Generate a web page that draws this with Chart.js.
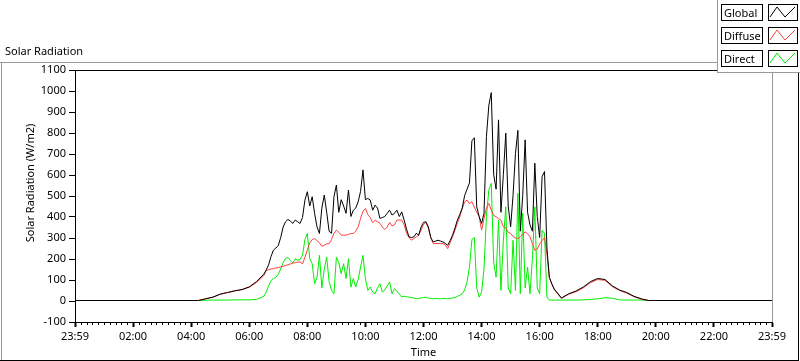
<!DOCTYPE html>
<html>
<head>
<meta charset="utf-8">
<title>Solar Radiation</title>
<script src="https://cdn.jsdelivr.net/npm/chart.js@4.4.1/dist/chart.umd.min.js"></script>
<style>
  html, body { margin: 0; padding: 0; background: #fff; }
  #wrap { width: 800px; height: 361px; }
</style>
</head>
<body>
<div id="wrap"><canvas id="solarChart" width="800" height="361"></canvas></div>
<script>
// Sample times (HH:MM), 5 minute steps through the day, coarser at dawn / dusk
const timeLabels = [
  '00:00', '04:00', '04:15', '04:30', '04:45', '05:00', '05:15', '05:30', '05:45', '06:00', '06:15', '06:30',
  '06:35', '06:40', '06:45', '06:50', '06:55',
  '07:00', '07:05', '07:10', '07:15', '07:20', '07:25', '07:30', '07:35', '07:40', '07:45', '07:50', '07:55',
  '08:00', '08:05', '08:10', '08:15', '08:20', '08:25', '08:30', '08:35', '08:40', '08:45', '08:50', '08:55',
  '09:00', '09:05', '09:10', '09:15', '09:20', '09:25', '09:30', '09:35', '09:40', '09:45', '09:50', '09:55',
  '10:00', '10:05', '10:10', '10:15', '10:20', '10:25', '10:30', '10:35', '10:40', '10:45', '10:50', '10:55',
  '11:00', '11:05', '11:10', '11:15', '11:20', '11:25', '11:30', '11:35', '11:40', '11:45', '11:50', '11:55',
  '12:00', '12:05', '12:10', '12:15', '12:20', '12:25', '12:30', '12:35', '12:40', '12:45', '12:50', '12:55',
  '13:00', '13:05', '13:10', '13:15', '13:20', '13:25', '13:30', '13:35', '13:40', '13:45', '13:50', '13:55',
  '14:00', '14:05', '14:10', '14:15', '14:20', '14:25', '14:30', '14:35', '14:40', '14:45', '14:50', '14:55',
  '15:00', '15:05', '15:10', '15:15', '15:20', '15:25', '15:30', '15:35', '15:40', '15:45', '15:50', '15:55',
  '16:00', '16:05', '16:10', '16:15', '16:20', '16:25', '16:30',
  '16:45', '17:00', '17:15', '17:30', '17:45', '18:00', '18:15', '18:30', '18:45', '19:00', '19:15', '19:30', '19:45', '20:00', '24:00'
];

const globalValues = [
  0, 0, 0, 8, 16, 30, 38, 46, 52, 65, 90, 125,
  145, 170, 210, 240, 250,
  262, 300, 350, 375, 386, 378, 367, 383, 375, 367, 395, 478,
  518, 450, 494, 415, 351, 319, 440, 502, 420, 330, 320, 494,
  550, 420, 480, 450, 415, 526, 400, 430, 440, 470, 520, 622,
  480, 486, 478, 430, 454, 440, 391, 395, 400, 415, 430, 407,
  415, 430, 400, 422, 383, 340, 303, 300, 303, 320, 311, 350,
  372, 375, 351, 300, 279, 283, 287, 283, 279, 272, 263, 285,
  311, 345, 383, 410, 440, 500, 530, 560, 760, 775, 446, 400,
  367, 415, 780, 930, 990, 600, 530, 860, 420, 600, 797, 450,
  351, 500, 700, 810, 330, 500, 765, 420, 360, 330, 654, 400,
  300, 590, 614, 250, 110, 80, 55,
  12, 32, 45, 64, 90, 105, 100, 70, 50, 38, 20, 8, 0, 0, 0
];

const diffuseValues = [
  0, 0, 0, 8, 16, 30, 38, 46, 52, 63, 86, 118,
  143, 146, 150, 152, 155,
  157, 160, 163, 167, 170, 174, 178, 180, 183, 183, 175, 205,
  240, 275, 290, 295, 285, 275, 258, 263, 270, 271, 290, 320,
  335, 325, 311, 311, 311, 315, 319, 319, 330, 351, 391, 425,
  438, 410, 395, 370, 383, 375, 367, 350, 338, 350, 372, 355,
  360, 383, 383, 383, 360, 320, 300, 287, 295, 303, 310, 335,
  362, 372, 345, 300, 271, 271, 272, 271, 271, 265, 247, 275,
  303, 335, 367, 400, 438, 470, 478, 462, 470, 445, 420, 399,
  335, 390, 440, 462, 430, 405, 399, 390, 383, 351, 345, 325,
  319, 305, 298, 295, 303, 315, 327, 318, 303, 270, 239, 245,
  270, 285, 300, 220, 110, 78, 52,
  10, 30, 42, 60, 85, 100, 96, 66, 48, 35, 18, 6, 0, 0, 0
];

const directValues = [
  0, 0, 0, 1, 2, 2, 2, 3, 3, 3, 5, 20,
  40, 70, 95, 105, 110,
  125, 150, 180, 200, 205, 190, 178, 199, 192, 195, 215, 290,
  319, 200, 175, 80, 110, 215, 60, 150, 207, 90, 48, 32,
  207, 180, 128, 175, 104, 199, 64, 104, 64, 100, 160, 215,
  104, 48, 64, 40, 32, 60, 80, 40, 50, 70, 88, 32,
  56, 45, 30, 16, 20, 18, 16, 14, 12, 8, 10, 12,
  14, 16, 12, 10, 8, 10, 9, 8, 10, 9, 8, 10,
  12, 14, 20, 25, 32, 50, 90, 160, 290, 300, 60, 16,
  40, 150, 400, 526, 558, 180, 111, 383, 48, 287, 446, 60,
  32, 287, 48, 510, 32, 415, 60, 159, 32, 200, 446, 60,
  32, 335, 320, 16, 2, 2, 2,
  2, 2, 2, 3, 5, 8, 13, 11, 3, 2, 2, 2, 0, 0, 0
];

const xTickLabels = ['23:59', '02:00', '04:00', '06:00', '08:00', '10:00', '12:00',
  '14:00', '16:00', '18:00', '20:00', '22:00', '23:59'];

const FONT = { family: '"Noto Sans", sans-serif', size: 11 };
const GRAY = '#9a9a9a';

function toHours(label) {
  const [h, m] = label.split(':').map(Number);
  return h + m / 60;
}

function toPoints(values) {
  return values.map((v, i) => ({ x: toHours(timeLabels[i]), y: v }));
}

// frame, titles, minor ticks and the legend panel
const framePlugin = {
  id: 'frame',
  beforeDraw(chart) {
    const ctx = chart.ctx;
    ctx.save();
    ctx.fillStyle = '#fff';
    ctx.fillRect(0, 0, chart.width, chart.height);

    ctx.fillStyle = GRAY;
    ctx.fillRect(0, 62, 718, 1);
    ctx.fillRect(1, 62, 1, 298);
    ctx.fillStyle = '#000';
    ctx.fillRect(0, 360, 799, 1);
    ctx.fillRect(798, 72, 1, 289);

    ctx.font = `${FONT.size}px ${FONT.family}`;
    ctx.fillStyle = '#000';
    ctx.textBaseline = 'alphabetic';
    ctx.textAlign = 'left';
    ctx.fillText('Solar Radiation', 5, 55);
    ctx.restore();
  },
  // half pixel shift so the 1px traces sit on whole rows
  beforeDatasetsDraw(chart) {
    chart.ctx.save();
    chart.ctx.translate(0, -0.5);
  },
  afterDatasetsDraw(chart) {
    chart.ctx.restore();
  },
  afterDraw(chart) {
    const ctx = chart.ctx;
    const area = chart.chartArea;
    const xScale = chart.scales.x;
    ctx.save();

    ctx.fillStyle = '#000';
    ctx.fillRect(area.left, area.top, area.right - area.left, 1);
    ctx.fillStyle = GRAY;
    ctx.fillRect(area.right, 72, 1, area.bottom - 72);

    // minor ticks every 12 minutes
    ctx.fillStyle = '#000';
    for (let k = 0; k <= 120; k++) {
      if (k % 10 === 0) continue;
      const px = Math.round(xScale.getPixelForValue(k * 0.2));
      ctx.fillRect(px, area.bottom + 1, 1, 2);
    }

    // y axis title
    ctx.font = `${FONT.size}px ${FONT.family}`;
    ctx.translate(31, 183);
    ctx.rotate(-Math.PI / 2);
    ctx.textAlign = 'center';
    ctx.textBaseline = 'middle';
    ctx.fillText('Solar Radiation (W/m2)', 0, 0);
    ctx.setTransform(1, 0, 0, 1, 0, 0);

    // legend panel
    ctx.fillStyle = '#fff';
    ctx.fillRect(718, 0, 82, 72);
    ctx.fillStyle = GRAY;
    ctx.fillRect(717, 0, 1, 73);
    ctx.fillRect(717, 72, 83, 1);

    chart.data.datasets.forEach((ds, i) => {
      const top = 4 + i * 23;
      ctx.strokeStyle = '#000';
      ctx.lineWidth = 1;
      ctx.strokeRect(721.5, top + 0.5, 41, 16);
      ctx.strokeRect(768.5, top + 0.5, 29, 16);
      ctx.fillStyle = '#000';
      ctx.textAlign = 'left';
      ctx.textBaseline = 'alphabetic';
      ctx.fillText(ds.label, 724, top + 13);

      ctx.strokeStyle = ds.borderColor;
      ctx.beginPath();
      ctx.moveTo(770, top + 13);
      ctx.lineTo(777, top + 3);
      ctx.lineTo(785, top + 13);
      ctx.lineTo(795, top + 3);
      ctx.stroke();
    });

    ctx.restore();
  }
};

function initChart() {
  const ctx = document.getElementById('solarChart').getContext('2d');
  const lineStyle = { borderWidth: 1, pointRadius: 0, tension: 0, fill: false };

  new Chart(ctx, {
    type: 'line',
    data: {
      datasets: [
        { label: 'Global', data: toPoints(globalValues), borderColor: '#000000', ...lineStyle },
        { label: 'Diffuse', data: toPoints(diffuseValues), borderColor: '#ff4040', ...lineStyle },
        { label: 'Direct', data: toPoints(directValues), borderColor: '#00ee00', ...lineStyle }
      ]
    },
    options: {
      responsive: false,
      animation: false,
      devicePixelRatio: 1,
      layout: { padding: { left: 0, top: 70, right: 28, bottom: 0 } },
      plugins: { legend: { display: false }, tooltip: { enabled: false } },
      scales: {
        x: {
          type: 'linear',
          min: 0,
          max: 24,
          afterFit: (scale) => { scale.height = 39; },
          ticks: {
            stepSize: 2,
            autoSkip: false,
            maxRotation: 0,
            padding: 3,
            color: '#000',
            font: FONT,
            callback: (value) => xTickLabels[Math.round(value / 2)]
          },
          grid: { drawOnChartArea: false, tickLength: 5, tickWidth: 2, tickColor: '#000' },
          border: { color: '#000', width: 1 },
          title: { display: true, text: 'Time', color: '#000', font: FONT, padding: { top: 0, bottom: 2 } }
        },
        y: {
          min: -100,
          max: 1100,
          afterFit: (scale) => { scale.width = 75; },
          ticks: { stepSize: 100, padding: 3, color: '#000', font: FONT, callback: (value) => String(value) },
          grid: { drawOnChartArea: false, tickLength: 6, tickColor: '#000' },
          border: { color: '#000', width: 1 }
        }
      }
    },
    plugins: [framePlugin]
  });
}

document.addEventListener('DOMContentLoaded', initChart);
</script>
</body>
</html>
